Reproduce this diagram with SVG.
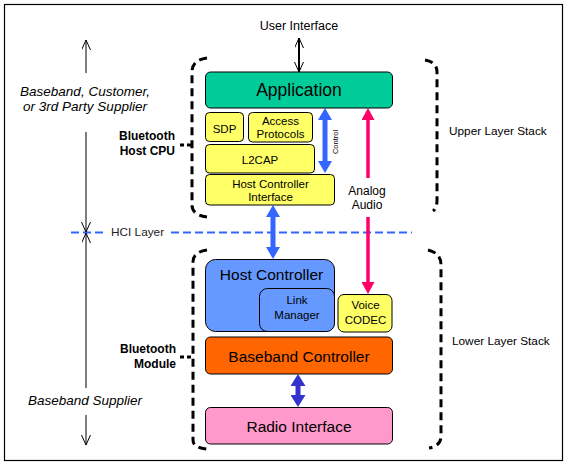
<svg xmlns="http://www.w3.org/2000/svg" width="567" height="466" viewBox="0 0 567 466">
<defs>
<style>
text{font-family:"Liberation Sans",Arial,sans-serif;fill:#000}
.box{stroke:#000;stroke-width:1}
.c{text-anchor:middle}
.r{text-anchor:end}
.it{font-style:italic;font-size:13.5px}
.bd{font-weight:bold;font-size:12px}
.s{font-size:11.5px}
.m{font-size:15.5px}
.br{fill:none;stroke:#000;stroke-width:3;stroke-dasharray:8 5}
.tick{fill:none;stroke:#000;stroke-width:3;stroke-dasharray:4 3}
.thin{stroke:#000;stroke-width:1;fill:none}
</style>
<marker id="open" markerUnits="userSpaceOnUse" markerWidth="12" markerHeight="10" refX="10" refY="4.5" orient="auto-start-reverse"><path d="M0,0 L10,4.5 L0,9" fill="none" stroke="#000" stroke-width="1"/></marker>
<marker id="hb" markerUnits="userSpaceOnUse" markerWidth="14" markerHeight="14" refX="2" refY="7" orient="auto-start-reverse"><path d="M0,0 L12,7 L0,14 z" fill="#3366FF"/></marker>
<marker id="hr" markerUnits="userSpaceOnUse" markerWidth="14" markerHeight="13" refX="2" refY="6.5" orient="auto-start-reverse"><path d="M0,0 L12,6.5 L0,13 z" fill="#FF0066"/></marker>
<marker id="hd" markerUnits="userSpaceOnUse" markerWidth="14" markerHeight="15" refX="2" refY="7.5" orient="auto-start-reverse"><path d="M0,0 L12,7.5 L0,15 z" fill="#3333CC"/></marker>
</defs>
<rect x="0" y="0" width="567" height="466" fill="#fff"/>
<rect x="4.5" y="4.5" width="558" height="456" fill="#fff" stroke="#000" stroke-width="1.2"/>

<g id="brackets">
<path class="br" d="M207,58 Q192,60 192,72 L192,205 Q192,215 207,217"/>
<path class="tick" d="M180,145 L192,145"/>
<path class="br" d="M207,250 Q193,252 193,262 L193,440 Q193,448 207,449"/>
<path class="tick" d="M180,357 L193,357"/>
<path class="br" d="M425,60 Q437,62 437,72 L437,200 Q437,208 433,211"/>
<path class="br" d="M428,250 Q441,253 441,265 L441,436 Q441,446 429,448"/>
</g>

<g id="labels">
<text x="299" y="30" class="c" font-size="12.5">User Interface</text>
<text x="85" y="96" class="c it">Baseband, Customer,</text>
<text x="85" y="111" class="c it">or 3rd Party Supplier</text>
<text x="85" y="405" class="c it">Baseband Supplier</text>
<text x="175" y="140" class="r bd">Bluetooth</text>
<text x="175" y="155" class="r bd">Host CPU</text>
<text x="176" y="353" class="r bd">Bluetooth</text>
<text x="176" y="368" class="r bd">Module</text>
<text x="449" y="135" font-size="11.8">Upper Layer Stack</text>
<text x="452" y="345" font-size="11.8">Lower Layer Stack</text>
<text x="111" y="236" font-size="11.8" style="fill:#222">HCI Layer</text>
<text x="367" y="195" class="c" font-size="12">Analog</text>
<text x="367" y="209" class="c" font-size="12">Audio</text>
<text transform="translate(338,142) rotate(-90)" class="c" font-size="7.5">Control</text>
</g>

<g id="connectors">
<line x1="71" y1="232.5" x2="106" y2="232.5" stroke="#3366FF" stroke-width="2" stroke-dasharray="8 4"/>
<line x1="171" y1="232.5" x2="412" y2="232.5" stroke="#3366FF" stroke-width="2" stroke-dasharray="8 4"/>
<line x1="86" y1="40" x2="86" y2="73" class="thin" marker-start="url(#open)"/>
<line x1="86" y1="132" x2="86" y2="232" class="thin" marker-end="url(#open)"/>
<line x1="86" y1="233" x2="86" y2="388" class="thin" marker-start="url(#open)"/>
<line x1="86" y1="415" x2="86" y2="445" class="thin" marker-end="url(#open)"/>
<line x1="299" y1="38" x2="299" y2="72" stroke="#000" stroke-width="2" marker-start="url(#open)" marker-end="url(#open)"/>
<line x1="325" y1="118" x2="325" y2="163" stroke="#3366FF" stroke-width="5" marker-start="url(#hb)" marker-end="url(#hb)"/>
<line x1="273" y1="215" x2="273" y2="249" stroke="#3366FF" stroke-width="5" marker-start="url(#hb)" marker-end="url(#hb)"/>
<line x1="368" y1="118" x2="368" y2="178" stroke="#FF0066" stroke-width="3.5" marker-start="url(#hr)"/>
<line x1="368" y1="217" x2="368" y2="284" stroke="#FF0066" stroke-width="3.5" marker-end="url(#hr)"/>
<line x1="298" y1="384" x2="298" y2="397" stroke="#3333CC" stroke-width="5" marker-start="url(#hd)" marker-end="url(#hd)"/>
</g>

<g id="application">
<rect class="box" x="205.5" y="72" width="187" height="36" rx="5" fill="#00CC99"/>
<text x="299" y="96" class="c" font-size="17.5">Application</text>
</g>
<g id="sdp">
<rect class="box" x="205.5" y="112.5" width="38" height="29" rx="4" fill="#FFFF66"/>
<text x="224.5" y="133" class="c s">SDP</text>
</g>
<g id="access-protocols">
<rect class="box" x="248.5" y="112.5" width="64" height="29.5" rx="4" fill="#FFFF66"/>
<text x="280.5" y="125" class="c s">Access</text>
<text x="280.5" y="137.5" class="c s">Protocols</text>
</g>
<g id="l2cap">
<rect class="box" x="205.5" y="144.5" width="109" height="28.5" rx="4" fill="#FFFF66"/>
<text x="260" y="163.5" class="c s">L2CAP</text>
</g>
<g id="hci">
<rect class="box" x="205.5" y="174.5" width="129" height="30.5" rx="4" fill="#FFFF66"/>
<text x="270.5" y="188" class="c s">Host Controller</text>
<text x="270.5" y="200.5" class="c s">Interface</text>
</g>
<g id="host-controller">
<rect class="box" x="205.5" y="259.5" width="129" height="72" rx="10" fill="#6699FF"/>
<text x="271.5" y="279.5" class="c m">Host Controller</text>
</g>
<g id="link-manager">
<rect class="box" x="259.5" y="288.5" width="75" height="43" rx="8" fill="#6699FF"/>
<text x="297" y="304" class="c s">Link</text>
<text x="297" y="319" class="c s">Manager</text>
</g>
<g id="voice-codec">
<rect class="box" x="338" y="294.5" width="54" height="37.5" rx="6" fill="#FFFF66"/>
<text x="365.5" y="308.5" class="c s">Voice</text>
<text x="365.5" y="323.5" class="c s">CODEC</text>
</g>
<g id="baseband-controller">
<rect class="box" x="205.5" y="337" width="187" height="37" rx="5" fill="#FF6600"/>
<text x="299" y="361.5" class="c m">Baseband Controller</text>
</g>
<g id="radio-interface">
<rect class="box" x="205.5" y="407.5" width="187" height="36.5" rx="5" fill="#FF99CC"/>
<text x="299" y="432" class="c m">Radio Interface</text>
</g>
</svg>
